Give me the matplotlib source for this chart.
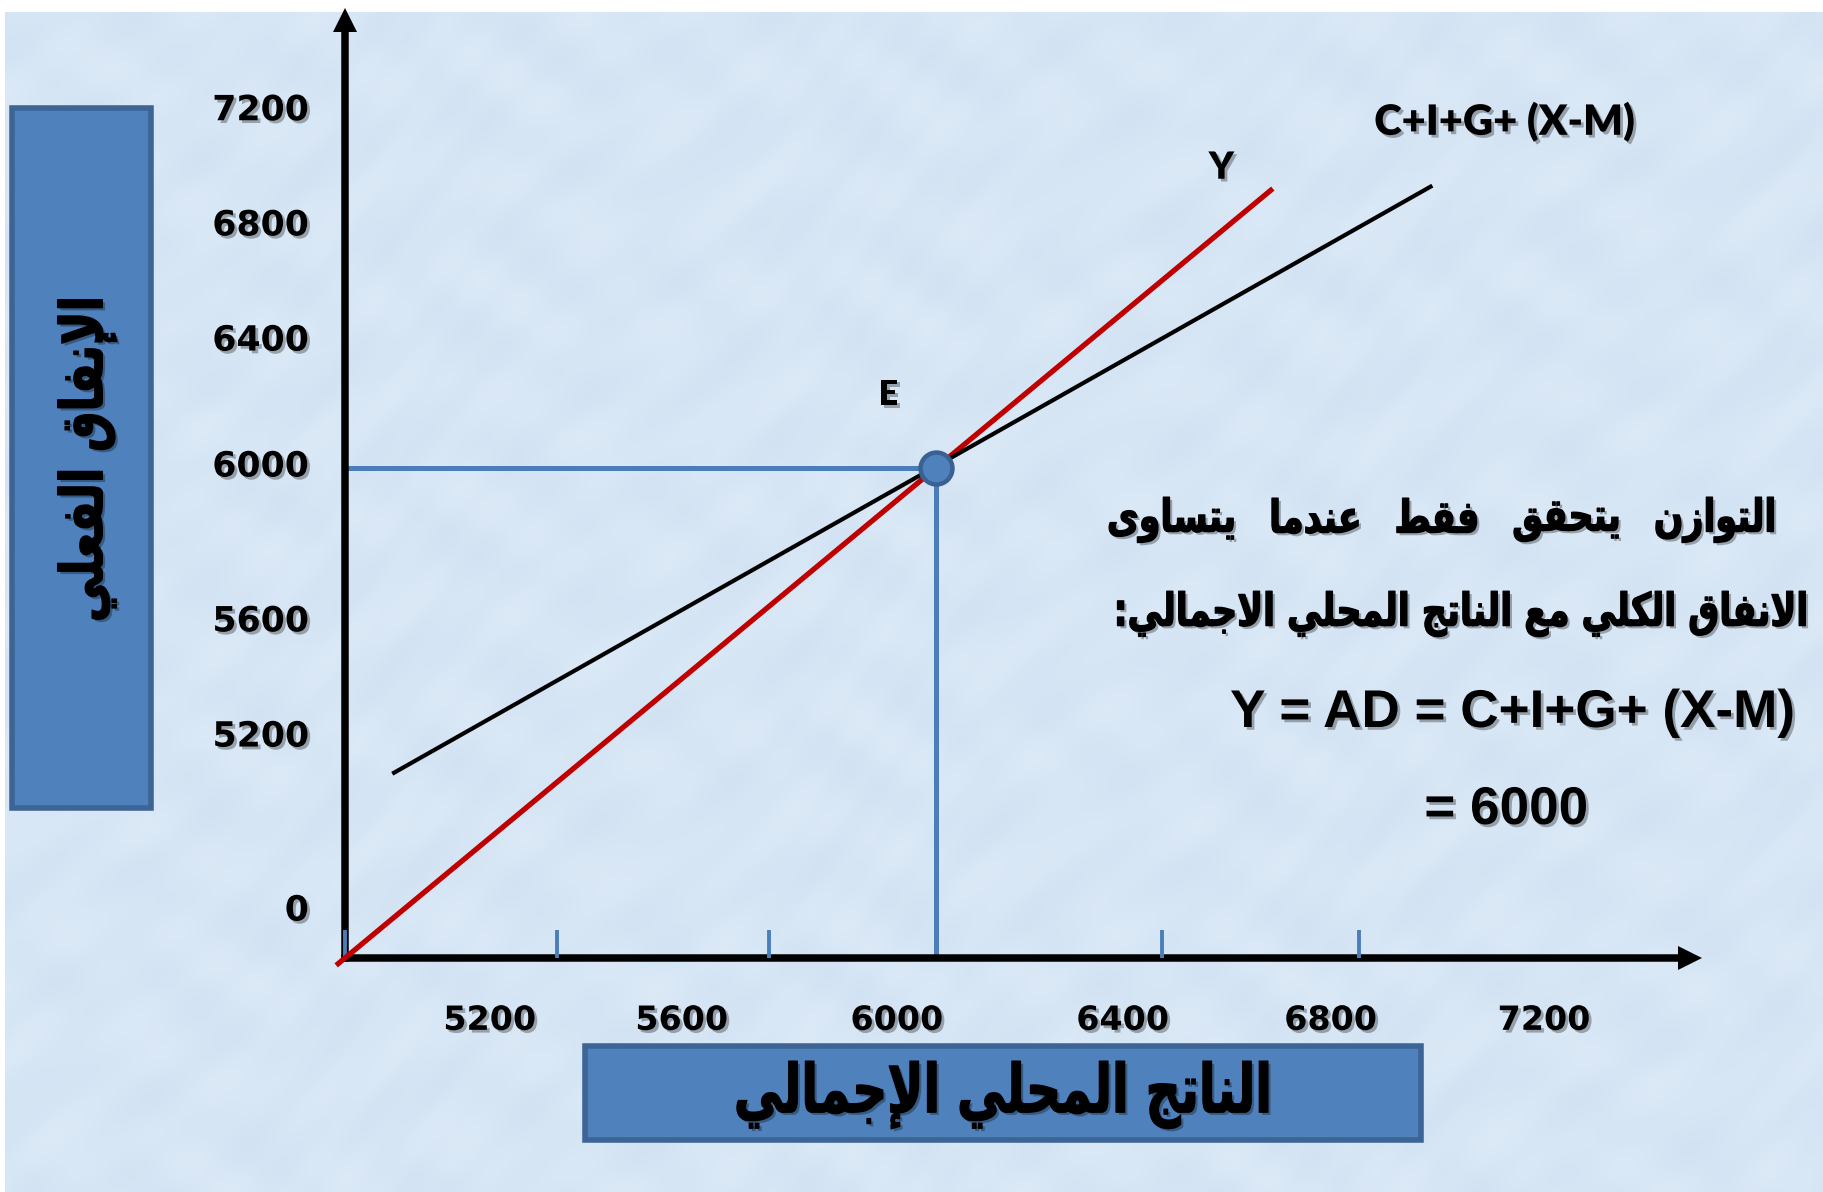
import numpy as np
import matplotlib
matplotlib.use("Agg")
import matplotlib.pyplot as plt
import matplotlib.patheffects as pe
from matplotlib.patches import Rectangle
from matplotlib.transforms import Affine2D

W, H = 1823, 1192

# ---- model values (aggregate expenditure diagram) ----
origin = 5000                      # value at the corner where the two axes meet
y_line_x = [4985, 6570]            # 45-degree line: Y = output
y_line_y = [4985, 6570]
ad_x = [5080, 6840]                # C+I+G+(X-M)
ad_y = [5376, 6576]
eq_x, eq_y = 6000, 6000            # equilibrium E

xtick_labels = ["5200", "5600", "6000", "6400", "6800", "7200"]
ytick_labels = ["7200", "6800", "6400", "6000", "5600", "5200", "0"]

# where the tick labels sit along the axes
xtick_pos = [5245, 5570, 5934, 6316, 6668, 7029]
ytick_pos = [6737, 6502, 6267, 6010, 5694, 5459, 5104]
# short blue marks along the horizontal axis
xmark_pos = [5000, 5359, 5717, 6382, 6716]

# ---- Arabic shaping (presentation forms + visual order) ----
_FORMS = {
    "\u0621": (0xFE80, "U"), "\u0622": (0xFE81, "R"), "\u0623": (0xFE83, "R"),
    "\u0624": (0xFE85, "R"), "\u0625": (0xFE87, "R"), "\u0626": (0xFE89, "D"),
    "\u0627": (0xFE8D, "R"), "\u0628": (0xFE8F, "D"), "\u0629": (0xFE93, "R"),
    "\u062A": (0xFE95, "D"), "\u062B": (0xFE99, "D"), "\u062C": (0xFE9D, "D"),
    "\u062D": (0xFEA1, "D"), "\u062E": (0xFEA5, "D"), "\u062F": (0xFEA9, "R"),
    "\u0630": (0xFEAB, "R"), "\u0631": (0xFEAD, "R"), "\u0632": (0xFEAF, "R"),
    "\u0633": (0xFEB1, "D"), "\u0634": (0xFEB5, "D"), "\u0635": (0xFEB9, "D"),
    "\u0636": (0xFEBD, "D"), "\u0637": (0xFEC1, "D"), "\u0638": (0xFEC5, "D"),
    "\u0639": (0xFEC9, "D"), "\u063A": (0xFECD, "D"), "\u0641": (0xFED1, "D"),
    "\u0642": (0xFED5, "D"), "\u0643": (0xFED9, "D"), "\u0644": (0xFEDD, "D"),
    "\u0645": (0xFEE1, "D"), "\u0646": (0xFEE5, "D"), "\u0647": (0xFEE9, "D"),
    "\u0648": (0xFEED, "R"), "\u0649": (0xFEEF, "R"), "\u064A": (0xFEF1, "D"),
}
_LAM_ALEF = {"\u0622": 0xFEF5, "\u0623": 0xFEF7, "\u0625": 0xFEF9, "\u0627": 0xFEFB}


def _jt(c):
    return _FORMS[c][1] if c in _FORMS else None


def arabic(text):
    out = []
    n = len(text)
    i = 0
    while i < n:
        c = text[i]
        prev_joins = i > 0 and _jt(text[i - 1]) == "D"
        if c == "\u0644" and i + 1 < n and text[i + 1] in _LAM_ALEF:
            out.append(chr(_LAM_ALEF[text[i + 1]] + (1 if prev_joins else 0)))
            i += 2
            continue
        if c not in _FORMS:
            out.append(c)
            i += 1
            continue
        base, t = _FORMS[c]
        prev_ok = prev_joins and t in ("R", "D")
        next_ok = t == "D" and i + 1 < n and _jt(text[i + 1]) in ("R", "D")
        if t == "U":
            out.append(chr(base))
        elif prev_ok and next_ok:
            out.append(chr(base + 3))
        elif next_ok:
            out.append(chr(base + 2))
        elif prev_ok:
            out.append(chr(base + 1))
        else:
            out.append(chr(base))
        i += 1
    return "".join(reversed(out))


class Squeezed(pe.AbstractPathEffect):
    """Apply another path effect after scaling the glyphs about a display point."""

    def __init__(self, inner, sx=1.0, sy=1.0, cx=0.0, cy=0.0):
        super().__init__()
        self.inner, self.sx, self.sy, self.cx, self.cy = inner, sx, sy, cx, cy

    def draw_path(self, renderer, gc, tpath, affine, rgbFace=None):
        a = affine + Affine2D().translate(-self.cx, -self.cy).scale(self.sx, self.sy).translate(self.cx, self.cy)
        self.inner.draw_path(renderer, gc, tpath, a, rgbFace)


def px(x, y):
    return x / W, 1 - y / H


def shadow_fx():
    return [pe.SimplePatchShadow(offset=(2.0, -2.0), shadow_rgbFace="black", alpha=0.3), pe.Normal()]


def squeezed_fx(sx, sy, cx_px, cy_px):
    cx, cy = cx_px, H - cy_px
    return [Squeezed(pe.SimplePatchShadow(offset=(2.0, -2.0), shadow_rgbFace="black", alpha=0.3), sx, sy, cx, cy),
            Squeezed(pe.Stroke(linewidth=1.0, foreground="black"), sx, sy, cx, cy)]


fig = plt.figure(figsize=(W / 100, H / 100), dpi=100)
fig.patch.set_facecolor("white")

# ---- light blue paper background ----
bg = fig.add_axes([5 / W, 0, 1 - 5 / W, (H - 12) / H], zorder=-10)
yy, xx = np.mgrid[0:300, 0:460].astype(float)
pattern = (np.sin(xx * 0.19 + 2.3 * np.cos(yy * 0.11)) +
           np.sin(yy * 0.23 + 2.0 * np.sin(xx * 0.07)) +
           0.6 * np.sin((xx + yy) * 0.41 + np.cos(xx * 0.05) * 3))
pattern = (pattern - pattern.min()) / (pattern.max() - pattern.min())
base = np.array([0.860, 0.915, 0.968])
darker = np.array([0.790, 0.862, 0.938])
tex = base[None, None, :] * (1 - 0.5 * pattern[..., None]) + darker[None, None, :] * 0.5 * pattern[..., None]
bg.imshow(tex, aspect="auto", interpolation="bicubic")
bg.axis("off")

# ---- main diagram axes ----
ax = fig.add_axes([345 / W, (H - 958) / H, (1690 - 345) / W, (958 - 20) / H])
ax.patch.set_alpha(0)
ax.set_xlim(origin, 7276)
ax.set_ylim(origin, 6914)
for side in ("top", "right"):
    ax.spines[side].set_visible(False)
for side in ("left", "bottom"):
    ax.spines[side].set_linewidth(5.4)
    ax.spines[side].set_color("black")
    ax.spines[side].set_capstyle("projecting")
ax.plot(1, 0, ">", color="black", ms=17, mew=0, transform=ax.transAxes, clip_on=False, zorder=5)
ax.plot(0, 1, "^", color="black", ms=17, mew=0, transform=ax.transAxes, clip_on=False, zorder=5)

ax.set_xticks(xtick_pos, xtick_labels)
ax.set_yticks(ytick_pos, ytick_labels)
ax.set_xticks(xmark_pos, minor=True)
ax.xaxis.set_zorder(2.6)
ax.tick_params(which="major", length=0)
ax.tick_params(axis="x", which="major", pad=33, labelsize=24)
ax.tick_params(axis="y", which="major", pad=26, labelsize=25)
ax.tick_params(axis="x", which="minor", direction="in", length=20, width=2.8, color="#4a7ebb")
for lab in ax.get_xticklabels() + ax.get_yticklabels():
    lab.set_fontweight("bold")
    lab.set_fontfamily("DejaVu Sans")
    lab.set_path_effects(shadow_fx())

# drop lines from E to the axes
ax.hlines(eq_y, origin, eq_x, color="#4a7ebb", lw=3.6, zorder=2)
ax.vlines(eq_x, origin, eq_y, color="#4a7ebb", lw=3.6, zorder=2)

# expenditure lines
ax.plot(y_line_x, y_line_y, color="#c00000", lw=3.8, solid_capstyle="butt", clip_on=False, zorder=3)
ax.plot(ad_x, ad_y, color="black", lw=3.0, solid_capstyle="butt", zorder=3)

# equilibrium point
ax.plot(eq_x, eq_y, "o", ms=23, mfc="#4f81bd", mec="#3a6193", mew=3.2, zorder=6)

label_font = ["Lato", "DejaVu Sans"]
ax.annotate("E", xy=(eq_x, eq_y), xytext=(-34, 53), textcoords="offset points",
            ha="center", va="center", fontsize=25, fontweight="heavy", family=label_font,
            path_effects=shadow_fx())
ax.annotate("Y", xy=(y_line_x[1], y_line_y[1]), xytext=(-37, 15), textcoords="offset points",
            ha="center", va="center", fontsize=27, fontweight="heavy", family=label_font,
            path_effects=shadow_fx())
t_ad = ax.annotate("C+I+G+ (X-M)", xy=(ad_x[1], ad_y[1]), xytext=(52, 46), textcoords="offset points",
                   ha="center", va="center", fontsize=27, fontweight="heavy", family=label_font,
                   path_effects=shadow_fx())

# ---- axis title boxes ----
box_kw = dict(facecolor="#4f81bd", edgecolor="#3c6494", linewidth=4, transform=fig.transFigure)
x0, y0 = px(12, 808)
fig.add_artist(Rectangle((x0, y0), 139 / W, 700 / H, **box_kw))
x0, y0 = px(585, 1140)
fig.add_artist(Rectangle((x0, y0), 836 / W, 94 / H, **box_kw))

arab = dict(family=["DejaVu Sans"], fontweight="bold")

renderer = fig.canvas.get_renderer()


def extent(t):
    return t.get_window_extent(renderer)


def arabic_text(x, y, s, target, k, ha="center", rotation=0):
    """Place shaped Arabic text whose run length is `target` px, glyphs k times taller."""
    t = fig.text(*px(x, y), arabic(s), ha=ha, va="center", rotation=rotation, fontsize=30, **arab)
    bb = extent(t)
    run = bb.height if rotation else bb.width
    t.set_fontsize(30 * target / run * k)
    if rotation:
        t.set_path_effects(squeezed_fx(1.0, 1.0 / k, x, y))
    else:
        t.set_path_effects(squeezed_fx(1.0 / k, 1.0, x, y))
    return t


arabic_text(87, 459, "الإنفاق الفعلي", 326, 1.3, rotation=90)
arabic_text(1003, 1095, "الناتج المحلي الإجمالي", 538, 1.38)

# ---- explanatory text on the right ----
k_txt = 1.3
t_line2 = arabic_text(1808, 614, "الانفاق الكلي مع الناتج المحلي الاجمالي:", 694, k_txt, ha="right")

t_eq = fig.text(*px(1794, 713), "Y = AD = C+I+G+ (X-M)", ha="right", va="center",
                fontsize=30, fontweight="bold", family=["Liberation Sans", "DejaVu Sans"],
                path_effects=shadow_fx())
t_val = fig.text(*px(1506, 810), "= 6000", ha="center", va="center",
                 fontsize=30, fontweight="bold", family=["Liberation Sans", "DejaVu Sans"],
                 path_effects=shadow_fx())


def fit(t, target):
    t.set_fontsize(t.get_fontsize() * target / extent(t).width)


fit(t_eq, 565)
fit(t_ad, 261)
t_val.set_fontsize(t_eq.get_fontsize())

# first line, justified between 1107 px and 1776 px
words = ["التوازن", "يتحقق", "فقط", "عندما", "يتساوى"]
fs = t_line2.get_fontsize()
word_texts = [fig.text(0, 0, arabic(w), ha="right", va="center", fontsize=fs, **arab) for w in words]
widths = [extent(t).width / k_txt for t in word_texts]
gap = (1776 - 1107 - sum(widths)) / (len(words) - 1)
right = 1776
for t, w in zip(word_texts, widths):
    t.set_position(px(right, 520))
    t.set_path_effects(squeezed_fx(1.0 / k_txt, 1.0, right, 520))
    right -= w + gap

fig.savefig("out.png", dpi=100)
